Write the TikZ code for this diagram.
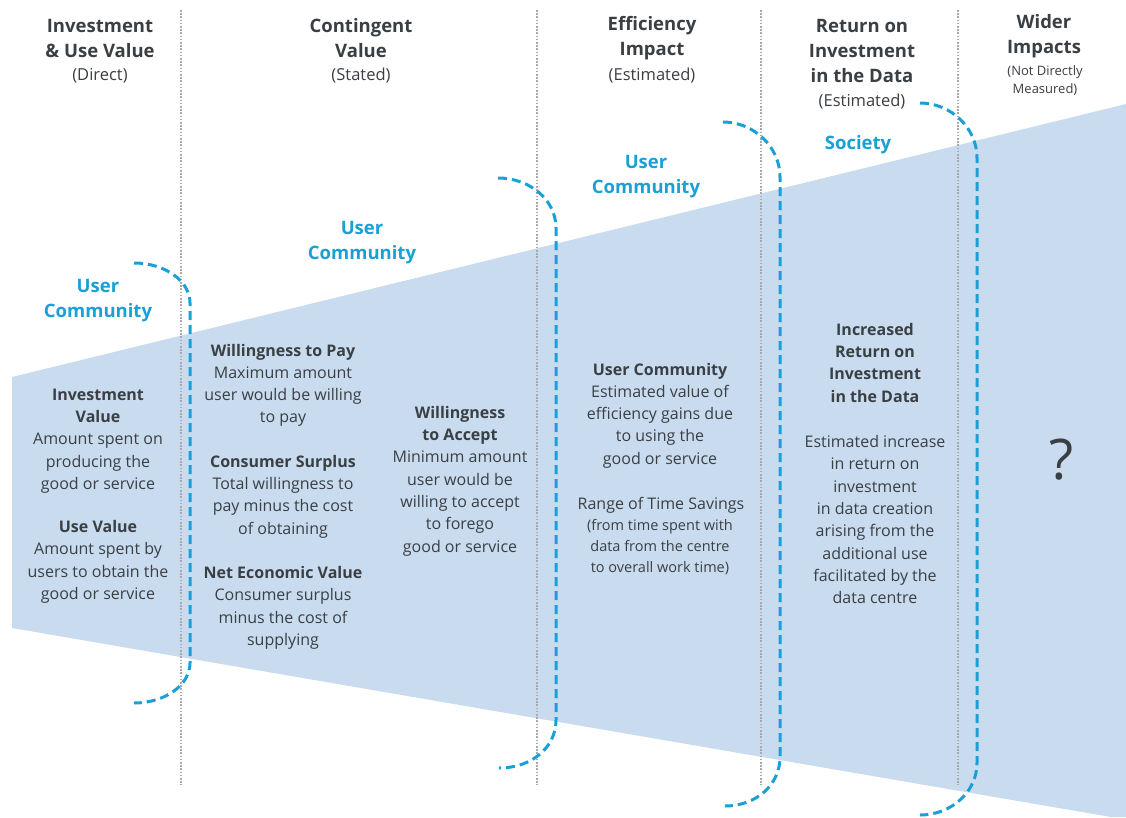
\documentclass[tikz,border=0pt]{standalone}
\usepackage{fontspec}
\setmainfont{Open Sans}
\definecolor{txt}{RGB}{58,63,68}
\definecolor{cyanc}{RGB}{26,160,214}
\definecolor{fillb}{RGB}{201,220,239}
\definecolor{dotg}{RGB}{170,170,170}
\begin{document}
\begin{tikzpicture}[x=1pt,y=-1pt,
  hdr/.style={text=txt,align=center,inner sep=0pt,font=\fontsize{18.5}{25}\selectfont\bfseries},
  subf/.style={text=txt,align=center,inner sep=0pt,font=\fontsize{16.5}{25}\selectfont},
  tiny/.style={text=txt,align=center,inner sep=0pt,font=\fontsize{13}{18}\selectfont},
  bluelab/.style={text=cyanc,align=center,inner sep=0pt,font=\fontsize{18.5}{25}\selectfont\bfseries},
  body/.style={text=txt,align=center,inner sep=0pt,font=\fontsize{16}{22.3}\selectfont},
  dotline/.style={draw=dotg,line width=1.6pt,dash pattern=on 1.6pt off 1.6pt},
  brk/.style={draw=cyanc,line width=3pt,dash pattern=on 9pt off 5pt}]
\useasboundingbox (0,0) rectangle (1126,817);
\fill[white] (0,0) rectangle (1126,817);
% funnel
\fill[fillb] (12,377) -- (1126,104) -- (1126,817) -- (1111,817) -- (12,628) -- cycle;
% dotted separators
\foreach \xx in {181,537,761,958} \draw[dotline] (\xx,10) -- (\xx,785);
% brackets
\draw[brk] (134,263) .. controls (165,263) and (190,281) .. (190,303) -- (190,663) .. controls (190,685) and (165,703) .. (134,703);
\draw[brk] (498,178) .. controls (530,178) and (556,200) .. (556,228) -- (556,720) .. controls (556,748) and (531,768) .. (499,768);
\draw[brk] (723,122) .. controls (754,122) and (780,147) .. (780,177) -- (780,757) .. controls (780,785) and (756,806) .. (725,806);
\draw[brk] (920,103) .. controls (951,103) and (977,128) .. (977,158) -- (977,763) .. controls (977,792) and (951,815) .. (920,815);
% headers
\node[hdr] (h1) at (100,38) {Investment\\\& Use Value};
\node[subf] (s1) at (100,76) {(Direct)};
\node[hdr] (h2) at (361,38) {Contingent\\Value};
\node[subf] (s2) at (361,76) {(Stated)};
\node[hdr] (h3) at (652,38) {Efficiency\\Impact};
\node[subf] (s3) at (652,76) {(Estimated)};
\node[hdr] (h4) at (862,50.5) {Return on\\Investment\\in the Data};
\node[subf] (s4) at (862,102) {(Estimated)};
\node[hdr] (h5) at (1044,36.5) {Wider\\Impacts};
\node[tiny] (s5) at (1045,80.5) {(Not Directly\\Measured)};
% blue labels
\node[bluelab] (b1) at (98,300.5) {User\\Community};
\node[bluelab] (b2) at (362,242.5) {User\\Community};
\node[bluelab] (b3) at (646,176.5) {User\\Community};
\node[bluelab] (b4) at (858,145) {Society};
% column texts
\node[body] (c1) at (98,496) {\textbf{Investment}\\\textbf{Value}\\Amount spent on\\producing the\\good or service\\[21pt]\textbf{Use Value}\\Amount spent by\\users to obtain the\\good or service};
\node[body] (c2) at (283,496.5) {\textbf{Willingness to Pay}\\Maximum amount\\user would be willing\\to pay\\[22pt]\textbf{Consumer Surplus}\\Total willingness to\\pay minus the cost\\of obtaining\\[22pt]\textbf{Net Economic Value}\\Consumer surplus\\minus the cost of\\supplying};
\node[body] (c3) at (460,481) {\textbf{Willingness}\\\textbf{to Accept}\\Minimum amount\\user would be\\willing to accept\\to forego\\good or service};
\node[body] (c4) at (660,415.5) {\textbf{User Community}\\Estimated value of\\efficiency gains due\\to using the\\good or service};
\node[body] (c4b) at (661,505) {Range of Time Savings};
\node[body,font=\fontsize{14.5}{21}\selectfont] (c4c) at (660,547) {(from time spent with\\data from the centre\\to overall work time)};
\node[body] (c5) at (875,463.5) {\textbf{Increased}\\\textbf{Return on}\\\textbf{Investment}\\\textbf{in the Data}\\[23pt]Estimated increase\\in return on\\investment\\in data creation\\arising from the\\additional use\\facilitated by the\\data centre};
\node[text=txt,inner sep=0pt,font=\fontsize{56}{60}\selectfont] (q) at (1062,460) {?};
\end{tikzpicture}
\end{document}
